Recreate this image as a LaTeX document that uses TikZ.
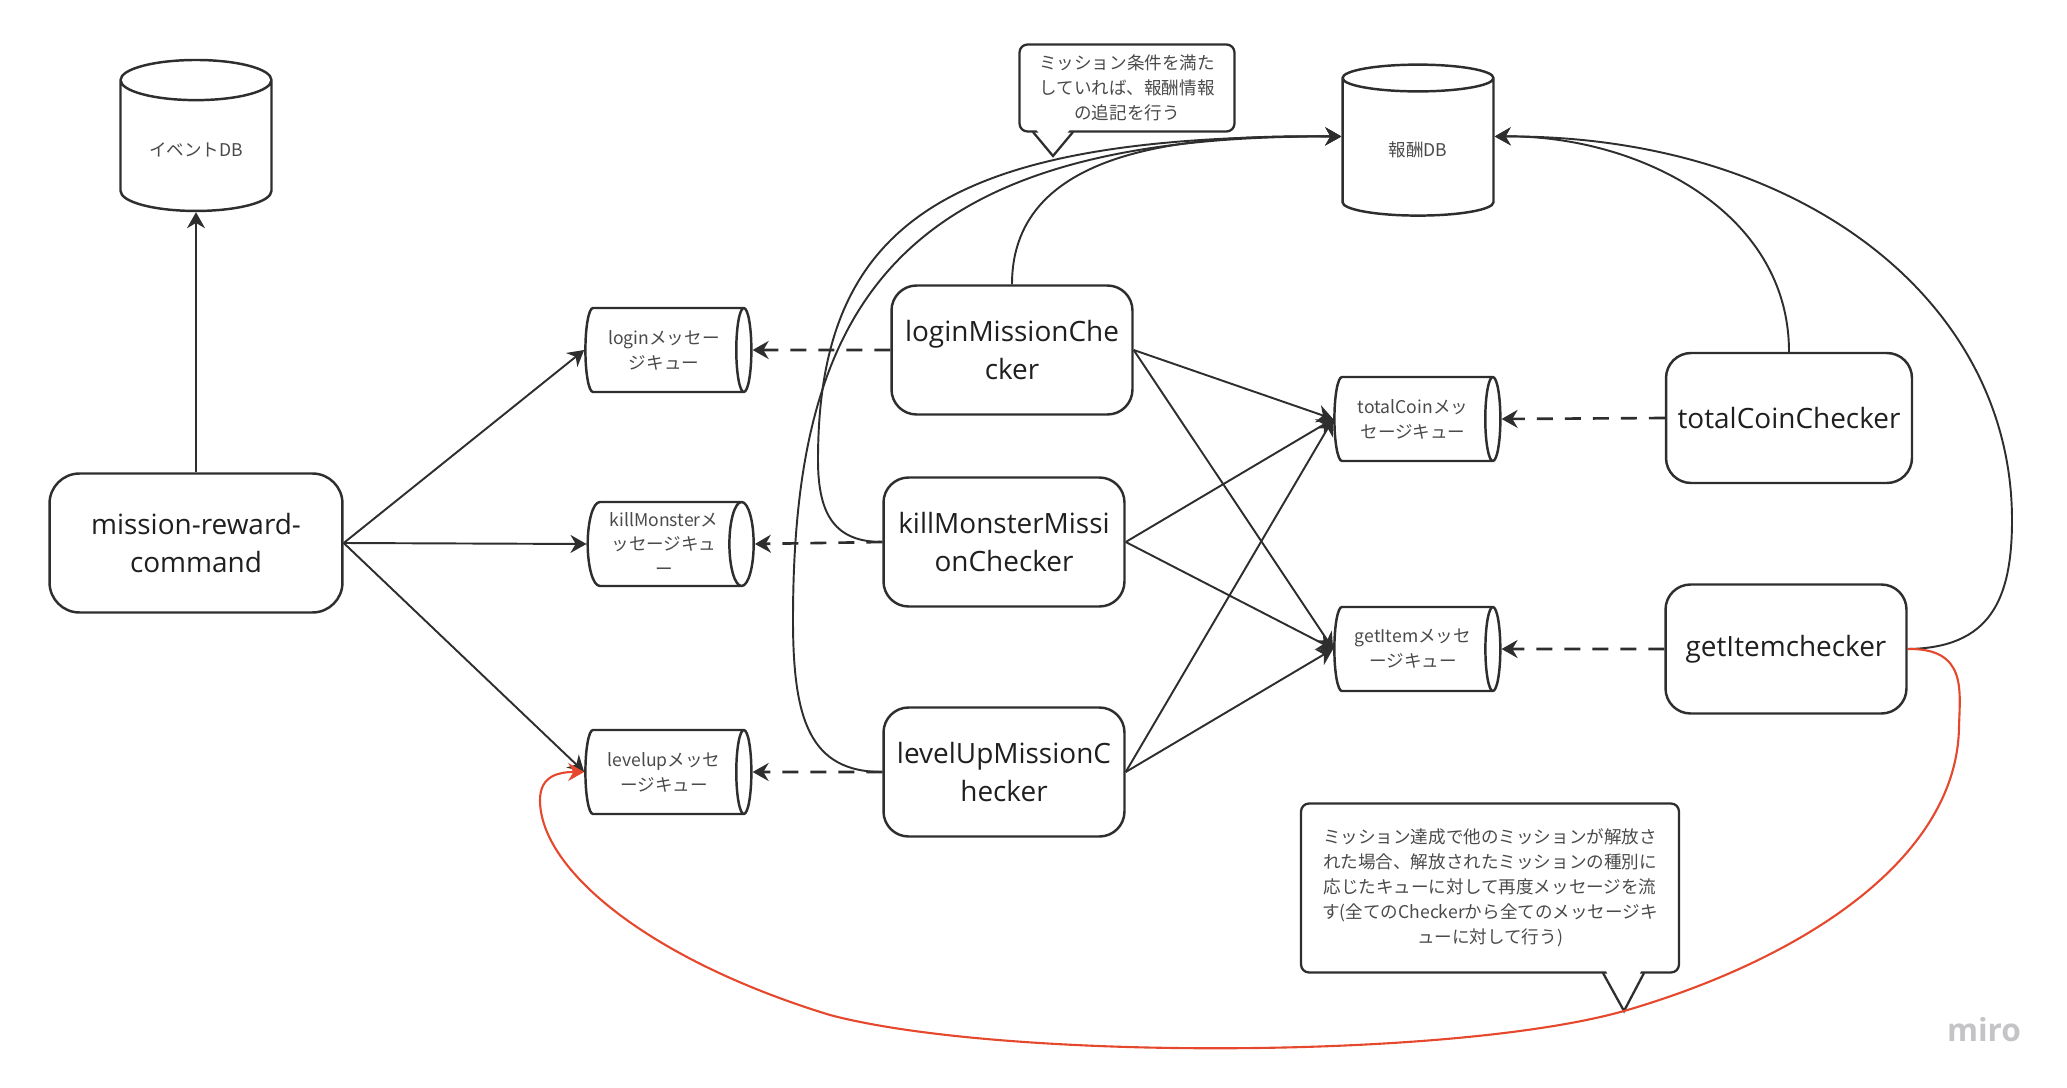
\documentclass[tikz,border=0pt]{standalone}
\usepackage{fontspec}
\setmainfont{Open Sans}
\newfontfamily\jpfont{Noto Sans CJK JP}
\usetikzlibrary{shapes.geometric,arrows.meta}

\definecolor{linegray}{HTML}{2E2E2E}
\definecolor{textgray}{HTML}{4A4A4A}
\definecolor{redline}{HTML}{E5482C}
\definecolor{mirogray}{HTML}{C4C4C8}

\newcommand\smalljp{\jpfont\fontsize{10}{14.2}\selectfont}
\newcommand\bigtext{\fontsize{15.9}{21.6}\selectfont}

\tikzset{
	db/.style={cylinder, shape border rotate=90, aspect=0.38, draw=linegray, line width=1.4pt,
		minimum width=3.02cm, minimum height=3.02cm, font=\smalljp, text=textgray},
	queue/.style={cylinder, aspect=0.38, draw=linegray, line width=1.4pt, inner sep=0pt,
		minimum width=1.68cm, minimum height=3.32cm, align=center, font=\smalljp, text=textgray},
	checker/.style={rectangle, rounded corners=0.5cm, draw=linegray, line width=1.4pt,
		minimum width=4.82cm, minimum height=2.58cm, align=center, font=\bigtext, text=black!88},
	memo/.style={rectangle, rounded corners=0.16cm, draw=linegray, line width=1.3pt,
		align=center, font=\smalljp, text=textgray},
	memotip/.style={draw=linegray, line width=1.3pt, line join=miter},
	flow/.style={draw=linegray, line width=1.1pt, -{Stealth[length=0.32cm,width=0.36cm]}},
	send/.style={flow, line width=1.5pt, dash pattern=on 0.32cm off 0.24cm},
	back/.style={draw=redline, line width=1.2pt, -{Stealth[length=0.32cm,width=0.36cm]}}
}

\begin{document}
\begin{tikzpicture}[x=0.02cm, y=-0.02cm]
	\useasboundingbox (0,0) rectangle (2067,1088);

	\node[db] (evdb) at (196,150) {イベントDB};
	\node[db] (rwdb) at (1418,150) {報酬DB};

	\node[checker, minimum width=5.86cm, minimum height=2.78cm, rounded corners=0.6cm] (cmd) at (196,543) {mission-reward-\\command};

	\node[queue] (qlogin) at (664,350) {loginメッセー\\ジキュー};
	\node[queue] (qkill) at (664,544) {killMonsterメ\\ッセージキュ\\ー};
	\node[queue] (qlevel) at (664,772) {levelupメッセ\\ージキュー};
	\node[queue] (qcoin) at (1413,419) {totalCoinメッ\\セージキュー};
	\node[queue] (qitem) at (1413,649) {getItemメッセ\\ージキュー};

	\node[checker] (clogin) at (1012,350) {loginMissionChe\\cker};
	\node[checker] (ckill) at (1004,542) {killMonsterMissi\\onChecker};
	\node[checker] (clevel) at (1004,772) {levelUpMissionC\\hecker};
	\node[checker, minimum width=4.92cm, minimum height=2.6cm] (ccoin) at (1789,418) {totalCoinChecker};
	\node[checker] (citem) at (1786,649) {getItemchecker};

	\node[memo, minimum width=4.3cm, minimum height=1.74cm] (note1) at (1127,88) {ミッション条件を満た\\していれば、報酬情報\\の追記を行う};
	\fill[white] (1035,128) -- (1071,128) -- (1053,152) -- cycle;
	\draw[memotip] (1033,132) -- (1053,156) -- (1073,132);

	\node[memo, minimum width=7.56cm, minimum height=3.38cm] (note2) at (1490,888) {ミッション達成で他のミッションが解放さ\\れた場合、解放されたミッションの種別に\\応じたキューに対して再度メッセージを流\\す(全てのCheckerから全てのメッセージキ\\ューに対して行う)};
	\fill[white] (1605,969) -- (1642,969) -- (1624,1006) -- cycle;
	\draw[memotip] (1603,973) -- (1624,1011) -- (1644,973);

	\node[text=mirogray, font=\fontsize{18}{18}\selectfont\bfseries] (miro) at (1984,1030) {miro};

	\draw[flow] (cmd.north) -- (evdb.south);
	\draw[flow] (cmd.east) -- (qlogin.west);
	\draw[flow] (cmd.east) -- (qkill.west);
	\draw[flow] (cmd.east) -- (qlevel.west);

	\foreach \c/\q in {clogin/qlogin, ckill/qkill, clevel/qlevel, ccoin/qcoin, citem/qitem}
		\draw[send] (\c.west) -- (\q.east);

	\foreach \c in {clogin, ckill, clevel}
		\foreach \q in {qcoin, qitem}
			\draw[flow] (\c.east) -- (\q.west);

	\draw[flow] (clogin.north) .. controls (1012,143) and (1200,135) .. (rwdb.170);
	\draw[flow] (ckill.west) .. controls (835,542) and (818,515) .. (818,460) .. controls (818,220) and (950,135) .. (rwdb.170);
	\draw[flow] (clevel.west) .. controls (810,772) and (793,720) .. (793,620) .. controls (793,300) and (900,135) .. (rwdb.170);
	\draw[flow] (ccoin.north) .. controls (1789,210) and (1636,135) .. (rwdb.10);
	\draw[flow] (citem.east) .. controls (1990,648) and (2012,600) .. (2012,520) .. controls (2012,300) and (1800,135) .. (rwdb.10);

	\draw[back] (citem.east) .. controls (1967,648) and (1960,690) .. (1959,727)
		.. controls (1957,860) and (1800,960) .. (1624,1011)
		.. controls (1450,1060) and (1000,1060) .. (830,1015)
		.. controls (650,960) and (540,870) .. (540,800)
		.. controls (540,775) and (560,772) .. (qlevel.west);
\end{tikzpicture}
\end{document}
